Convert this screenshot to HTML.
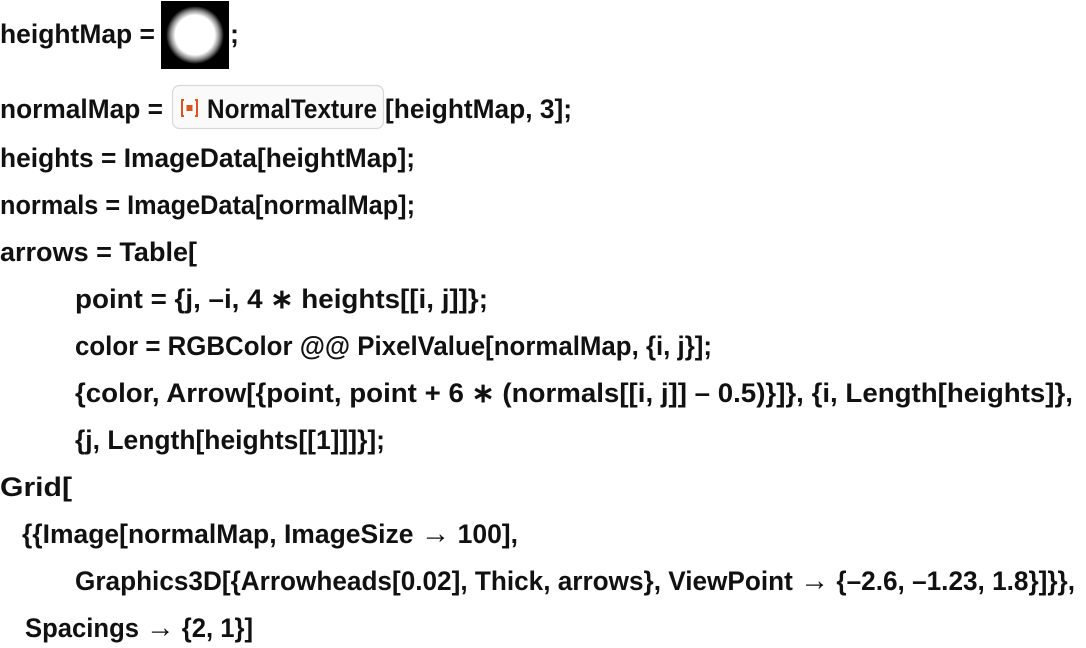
<!DOCTYPE html>
<html><head><meta charset="utf-8"><style>
html,body{margin:0;padding:0;background:#fff;}
svg{display:block}
text{font-family:"Liberation Sans",sans-serif;font-weight:bold;font-size:27px;fill:#111;}
.ar{font-size:30px;font-weight:normal;}
</style></head><body>
<svg width="1086" height="648" viewBox="0 0 1086 648" xmlns="http://www.w3.org/2000/svg">
<defs>
<radialGradient id="g" cx="50%" cy="50%" r="50%">
<stop offset="0" stop-color="#fff"/><stop offset="0.68" stop-color="#fff"/><stop offset="0.85" stop-color="#888"/><stop offset="1" stop-color="#000"/>
</radialGradient>
</defs>
<text x="0" y="43" textLength="155" lengthAdjust="spacingAndGlyphs">heightMap =</text>
<rect x="161" y="1" width="68" height="68" fill="#000"/>
<circle cx="195" cy="35" r="29" fill="url(#g)"/>
<text x="230" y="43">;</text>

<text x="0" y="118" textLength="163" lengthAdjust="spacingAndGlyphs">normalMap =</text>
<rect x="172.5" y="85.5" width="211" height="43" rx="7" fill="#fafafa" stroke="#d8d8d8" stroke-width="1.2"/>
<path d="M184 100h-2v16h2M195 100h2v16h-2" fill="none" stroke="#d9541e" stroke-width="2"/>
<rect x="186.5" y="105" width="6" height="6" fill="#d9541e"/>
<text x="207" y="118" textLength="170" lengthAdjust="spacingAndGlyphs">NormalTexture</text>
<text x="385" y="118" textLength="187" lengthAdjust="spacingAndGlyphs">[heightMap, 3];</text>

<text x="0" y="167" textLength="415" lengthAdjust="spacingAndGlyphs">heights = ImageData[heightMap];</text>
<text x="0" y="214" textLength="415" lengthAdjust="spacingAndGlyphs">normals = ImageData[normalMap];</text>
<text x="0" y="261" textLength="197" lengthAdjust="spacingAndGlyphs">arrows = Table[</text>
<text x="75" y="308" textLength="413" lengthAdjust="spacingAndGlyphs">point = {j, –i, 4 ∗ heights[[i, j]]};</text>
<text x="75" y="355" textLength="637" lengthAdjust="spacingAndGlyphs">color = RGBColor @@ PixelValue[normalMap, {i, j}];</text>
<text x="75" y="402" textLength="998" lengthAdjust="spacingAndGlyphs">{color, Arrow[{point, point + 6 ∗ (normals[[i, j]] – 0.5)}]}, {i, Length[heights]},</text>
<text x="75" y="449" textLength="310" lengthAdjust="spacingAndGlyphs">{j, Length[heights[[1]]]}];</text>
<text x="0" y="496" textLength="72" lengthAdjust="spacingAndGlyphs">Grid[</text>
<text x="22" y="543" textLength="496" lengthAdjust="spacingAndGlyphs">{{Image[normalMap, ImageSize <tspan class="ar">→</tspan> 100],</text>
<text x="75" y="590" textLength="1000" lengthAdjust="spacingAndGlyphs">Graphics3D[{Arrowheads[0.02], Thick, arrows}, ViewPoint <tspan class="ar">→</tspan> {–2.6, –1.23, 1.8}]}},</text>
<text x="25" y="637" textLength="228" lengthAdjust="spacingAndGlyphs">Spacings <tspan class="ar">→</tspan> {2,  1}]</text>
</svg>
</body></html>
